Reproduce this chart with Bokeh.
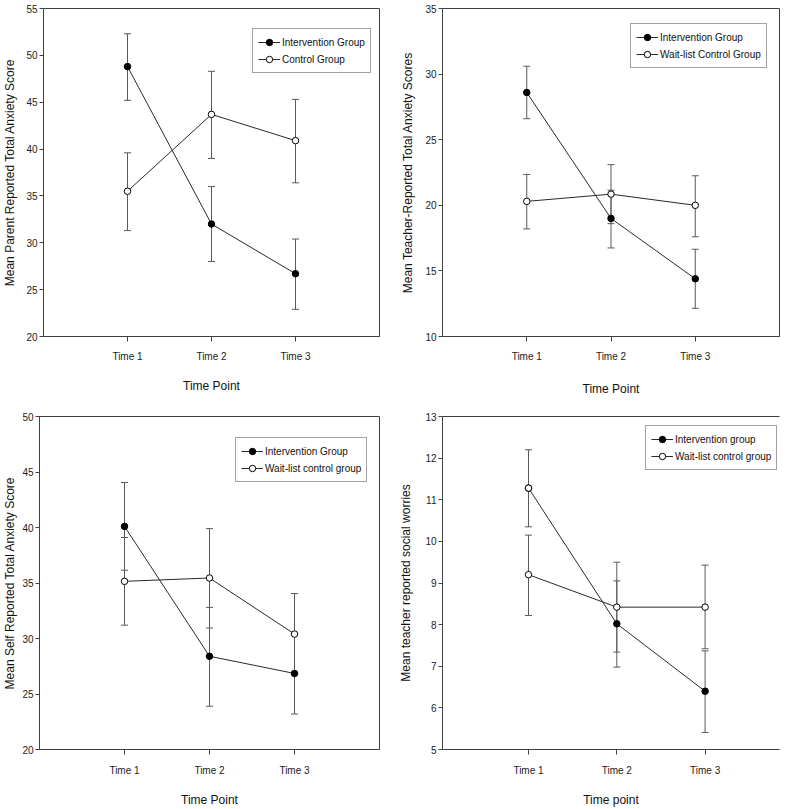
from bokeh.plotting import figure
from bokeh.models import (ColumnDataSource, Whisker, TeeHead, FixedTicker, Legend,
                          LegendItem, LinearAxis, Range1d)
from bokeh.layouts import column, row
from bokeh.embed import file_html
from bokeh.resources import INLINE

# ---------------- data ----------------
time_x = [1, 2, 3]
time_labels = ["Time 1", "Time 2", "Time 3"]

# Panel 1: parent reported total anxiety
p1_int_mean = [48.8, 32.0, 26.7]
p1_int_lo = [45.2, 28.0, 22.9]
p1_int_hi = [52.3, 36.0, 30.4]
p1_ctl_mean = [35.5, 43.7, 40.9]
p1_ctl_lo = [31.3, 39.0, 36.4]
p1_ctl_hi = [39.6, 48.3, 45.3]

# Panel 2: teacher reported total anxiety
p2_int_mean = [28.6, 19.0, 14.4]
p2_int_lo = [26.6, 16.75, 12.15]
p2_int_hi = [30.6, 21.15, 16.65]
p2_ctl_mean = [20.3, 20.85, 20.0]
p2_ctl_lo = [18.2, 18.6, 17.6]
p2_ctl_hi = [22.35, 23.1, 22.25]

# Panel 3: self reported total anxiety
p3_int_mean = [40.1, 28.4, 26.85]
p3_int_lo = [36.15, 23.9, 23.2]
p3_int_hi = [44.05, 32.8, 30.5]
p3_ctl_mean = [35.15, 35.45, 30.4]
p3_ctl_lo = [31.2, 30.95, 26.8]
p3_ctl_hi = [39.1, 39.9, 34.05]

# Panel 4: teacher reported social worries
p4_int_mean = [11.28, 8.02, 6.4]
p4_int_lo = [10.35, 6.98, 5.41]
p4_int_hi = [12.2, 9.05, 7.37]
p4_ctl_mean = [9.2, 8.42, 8.42]
p4_ctl_lo = [8.22, 7.34, 7.42]
p4_ctl_hi = [10.15, 9.5, 9.43]

FONT = "Liberation Sans"
AXIS_COL = "#404040"
ERR_COL = "#5a5a5a"
LINE_COL = "#2a2a2a"
MSIZE = 6.5


def make_panel(width, height, borders, x_range, y_lim, y_step, ylabel, xlabel,
               int_series, ctl_series, int_label, ctl_label, legend_loc,
               ylabel_standoff, xlabel_standoff, xmajor_standoff,
               open_top_right=False, open_first_int=False):
    bl, br, bt, bb = borders
    p = figure(width=width, height=height, output_backend="svg", toolbar_location=None,
               x_range=Range1d(*x_range), y_range=Range1d(y_lim[0], y_lim[1]),
               min_border_left=bl, min_border_right=br, min_border_top=bt,
               min_border_bottom=bb)
    p.xgrid.visible = False
    p.ygrid.visible = False
    p.background_fill_color = "white"
    p.border_fill_color = "white"

    xax = p.below[0]
    yax = p.left[0]
    xax.ticker = FixedTicker(ticks=time_x)
    xax.major_label_overrides = {x: lab for x, lab in zip(time_x, time_labels)}
    yax.ticker = FixedTicker(ticks=list(range(y_lim[0], y_lim[1] + 1, y_step)))
    for ax in (xax, yax):
        ax.axis_line_color = AXIS_COL
        ax.major_tick_line_color = AXIS_COL
        ax.minor_tick_line_color = None
        ax.major_tick_in = 0
        ax.major_label_text_font = FONT
        ax.major_label_text_font_size = "10px"
        ax.major_label_text_color = "#222222"
        ax.axis_label_text_font = FONT
        ax.axis_label_text_font_size = "12px"
        ax.axis_label_text_font_style = "normal"
        ax.axis_label_text_color = "#111111"
    xax.major_tick_out = 5
    yax.major_tick_out = 4
    yax.major_label_standoff = 2
    yax.axis_label_standoff = ylabel_standoff
    xax.major_label_standoff = xmajor_standoff
    xax.axis_label_standoff = xlabel_standoff
    yax.axis_label = ylabel
    xax.axis_label = xlabel

    if open_top_right:
        p.outline_line_color = None
        top = LinearAxis(ticker=FixedTicker(ticks=[]), axis_line_color=AXIS_COL,
                         major_tick_line_color=None, minor_tick_line_color=None,
                         major_label_text_font_size="0px")
        p.add_layout(top, "above")
    else:
        p.outline_line_color = AXIS_COL
        p.outline_line_alpha = 1.0

    sources = []
    for (mean, lo, hi), fill in ((ctl_series, "white"), (int_series, "black")):
        src = ColumnDataSource(dict(x=time_x, y=mean, lo=lo, hi=hi))
        w = Whisker(base="x", upper="hi", lower="lo", source=src, level="underlay",
                    line_color=ERR_COL, line_width=1,
                    upper_head=TeeHead(size=7, line_color=ERR_COL, line_width=1),
                    lower_head=TeeHead(size=7, line_color=ERR_COL, line_width=1))
        p.add_layout(w)
        sources.append((src, fill))
    lines = [p.line("x", "y", source=src, line_color=LINE_COL, line_width=1)
             for src, _ in sources]
    marks = [p.scatter("x", "y", source=src, size=MSIZE, marker="circle",
                       fill_color=fill, line_color="black", line_width=1)
             for src, fill in sources]
    if open_first_int:
        p.scatter([time_x[0]], [int_series[0][0]], size=MSIZE, marker="circle",
                  fill_color="white", line_color="black", line_width=1)

    legend = Legend(items=[LegendItem(label=int_label, renderers=[lines[1], marks[1]]),
                           LegendItem(label=ctl_label, renderers=[lines[0], marks[0]])],
                    location=legend_loc, orientation="vertical",
                    border_line_color="#444444", border_line_width=1,
                    background_fill_color="white", background_fill_alpha=1.0,
                    label_text_font=FONT, label_text_font_size="10px",
                    label_text_color="#111111",
                    padding=5, spacing=1, label_height=16, glyph_height=16,
                    glyph_width=22, label_standoff=2, margin=0)
    p.add_layout(legend)
    return p


p1 = make_panel(396, 400, (43, 17, 8, 64), (0, 4), (20, 55), 5,
                "Mean Parent Reported Total Anxiety Score", "Time Point",
                (p1_int_mean, p1_int_lo, p1_int_hi), (p1_ctl_mean, p1_ctl_lo, p1_ctl_hi),
                "Intervention Group", "Control Group", (209, 263), 6, 14, 9)

p2 = make_panel(397, 400, (46, 14, 8, 64), (0, 4), (10, 35), 5,
                "Mean Teacher-Reported Total Anxiety Scores", "Time Point",
                (p2_int_mean, p2_int_lo, p2_int_hi), (p2_ctl_mean, p2_ctl_lo, p2_ctl_hi),
                "Intervention Group", "Wait-list Control Group", (188, 268), 7, 17, 9)

p3 = make_panel(396, 409, (39, 17, 16, 58), (0, 4), (20, 50), 5,
                "Mean Self Reported Total Anxiety Score", "Time Point",
                (p3_int_mean, p3_int_lo, p3_int_hi), (p3_ctl_mean, p3_ctl_lo, p3_ctl_hi),
                "Intervention Group", "Wait-list control group", (196, 267), 2, 14, 10)

p4 = make_panel(397, 409, (46, 14, 16, 58), (0.026, 3.8425), (5, 13), 1,
                "Mean teacher reported social worries", "Time point",
                (p4_int_mean, p4_int_lo, p4_int_hi), (p4_ctl_mean, p4_ctl_lo, p4_ctl_hi),
                "Intervention group", "Wait-list control group", (203, 279), 9, 14, 10,
                open_top_right=True, open_first_int=True)

layout = column(row(p1, p2), row(p3, p4))

open("out.html", "w").write(file_html(layout, INLINE))
